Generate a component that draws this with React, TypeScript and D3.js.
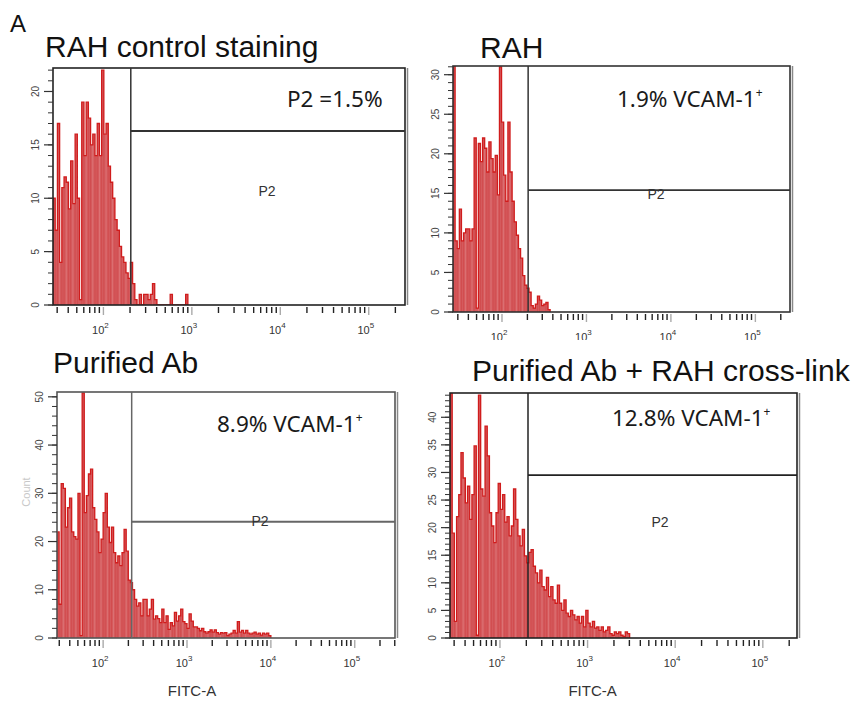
import React from "react";
import * as d3 from "d3";

// ---------------- data ----------------
const figureLetter = "A";
const panelTitles = [
  "RAH control staining",
  "RAH",
  "Purified Ab",
  "Purified Ab + RAH cross-link",
];
const gateTexts = ["P2 =1.5%", "1.9% VCAM-1", "8.9% VCAM-1", "12.8% VCAM-1"];
const gateTextSup = ["", "+", "+", "+"];
const gateName = "P2";
const xAxisTitle = "FITC-A";
const yAxisTitle = "Count";

// axis ranges (log10 of FITC-A)
const xLogMin = [1.43, 1.42, 1.45, 1.43];
const xLogMax = [5.41, 5.41, 5.48, 5.39];
const xMajorExponents = [2, 3, 4, 5];
const yMax = [22.2, 31.1, 51, 44.4];
const yLabelTicks = [
  [0, 5, 10, 15, 20],
  [0, 5, 10, 15, 20, 25, 30],
  [0, 10, 20, 30, 40, 50],
  [0, 5, 10, 15, 20, 25, 30, 35, 40],
];
const yMinorStep = [1, 1, 2, 1];

// P2 gate: vertical threshold (FITC-A) and marker height (count)
const gateFITC = [204, 204, 219, 209];
const gateCount = [16.3, 15.4, 24.1, 29.5];

// histogram bins: start (log10 FITC-A) and width
const binStartLog = [1.43, 1.42, 1.45, 1.43];
const binStepLog = 0.025;

const countsRAHControl = [
  10, 7, 17, 4, 11, 12, 11.5, 9, 13.5, 9.5, 16, 10, 0.5, 19, 14, 19, 17.5, 15,
  16, 14, 17, 14, 22, 16, 17, 13, 11.5, 10, 8, 7, 5.5, 4.5, 4, 3, 2.5, 4, 2,
  0.5, 0, 1, 0, 1, 1, 0.5, 1, 2, 0.5, 0, 0, 0, 0, 0, 0, 1, 0, 0, 0, 0, 0, 0, 1,
];
const countsRAH = [
  45, 9, 8, 13, 9, 10, 10.5, 10.5, 9, 10.5, 22, 0.5, 21.3, 19, 22, 20.7, 17.7,
  21.5, 19.4, 17.7, 19.8, 14.8, 31, 24, 17.3, 14, 24, 17.7, 14, 11.4, 9.7, 8,
  6.8, 4.6, 3.4, 3, 2.5, 0.8, 0.5, 1, 2, 1.5, 0.8, 1, 1.2, 0.3,
];
const countsPurified = [
  22, 7, 32, 31, 23, 27, 29, 22, 21, 20.5, 30, 0.5, 50.8, 26, 29.5, 34, 35, 27,
  24.6, 22, 17.7, 20.5, 26, 30, 23, 19.8, 23, 17.7, 15.6, 17, 15, 17.7, 22.5,
  18, 12, 11.5, 10, 8, 6.6, 7.3, 4.6, 8, 8, 4.6, 6, 8, 3.9, 4.6, 4, 3.2, 6, 3.2,
  4.6, 1.8, 3.2, 2.5, 5.3, 3.5, 4.6, 6, 3.4, 3, 2, 5, 3.5, 2.3, 2.3, 2, 1.5, 2,
  1.3, 1, 1.3, 1.7, 1.2, 1.7, 1.1, 0.8, 1.1, 1, 1.1, 0.5, 0.8, 1, 1.6, 1, 3.4,
  1.2, 1.6, 1, 1.6, 1, 0.8, 1, 1.2, 0.8, 1, 0.6, 1, 0.8, 1, 0.5,
];
const countsCrossLink = [
  60, 19, 3, 22, 26, 33.6, 29, 24.5, 27.5, 21.5, 26, 34.8, 0.5, 44, 27, 25.7,
  38.4, 33, 22.7, 20.3, 17.3, 22.7, 28, 23.3, 26, 21, 22, 18.5, 20.3, 27, 21.5,
  18.5, 16.7, 19.7, 14.9, 13.6, 15.5, 16, 13, 11.8, 10, 12.3, 9.3, 8.7, 11, 7.5,
  9.3, 6.9, 6.3, 9.6, 6.3, 5, 6.9, 4.5, 3.9, 5, 4.2, 3.3, 3.9, 2.7, 3.9, 2, 5,
  2.7, 2, 3, 1.8, 2, 1.4, 2, 1.1, 1.4, 2, 0.8, 0.5, 1.1, 0.8, 1.1, 0.5, 0.3,
  1.1, 0.8,
];
const panelCounts = [countsRAHControl, countsRAH, countsPurified, countsCrossLink];

// ---------------- layout ----------------
type Layout = {
  left: number; right: number; top: number; bottom: number;
  titleX: number; titleY: number;
  annX: number; annY: number;
  p2X: number; p2Y: number;
  clipBottom: number | null;
  showXTitle: boolean;
  frame: string; gateStroke: string;
};
const layouts: Layout[] = [
  { left: 53, right: 405, top: 68, bottom: 305, titleX: 45, titleY: 57, annX: 287, annY: 107, p2X: 267, p2Y: 196, clipBottom: null, showXTitle: false, frame: "#222", gateStroke: "#333" },
  { left: 453, right: 790, top: 66, bottom: 312, titleX: 480, titleY: 58, annX: 617, annY: 107, p2X: 656, p2Y: 199, clipBottom: 340, showXTitle: false, frame: "#333", gateStroke: "#333" },
  { left: 57, right: 395, top: 392, bottom: 638, titleX: 53, titleY: 373, annX: 217, annY: 432, p2X: 260, p2Y: 526, clipBottom: null, showXTitle: true, frame: "#555", gateStroke: "#666" },
  { left: 450, right: 797, top: 393, bottom: 638, titleX: 472, titleY: 381, annX: 612, annY: 426, p2X: 660, p2Y: 527, clipBottom: null, showXTitle: true, frame: "#222", gateStroke: "#222" },
];

const TITLE_FONT = "'Liberation Sans', Arial, sans-serif";
const ANN_FONT = "'Noto Sans', 'Open Sans', sans-serif";

function Panel({ idx }: { idx: number }) {
  const L = layouts[idx];
  const x = d3
    .scaleLog()
    .domain([Math.pow(10, xLogMin[idx]), Math.pow(10, xLogMax[idx])])
    .range([L.left, L.right]);
  const y = d3.scaleLinear().domain([0, yMax[idx]]).range([L.bottom, L.top]);
  const counts = panelCounts[idx];
  const edges = counts.map((_, i) => Math.pow(10, binStartLog[idx] + i * binStepLog));
  const lastEdge = Math.pow(10, binStartLog[idx] + counts.length * binStepLog);

  const pts: [number, number][] = counts.map((c, i) => [edges[i], c]);
  pts.push([lastEdge, counts[counts.length - 1]]);
  const outlinePts: [number, number][] = [[edges[0], 0], ...pts, [lastEdge, 0]];

  const area = d3
    .area<[number, number]>()
    .x((d) => x(d[0]))
    .y0(L.bottom)
    .y1((d) => y(d[1]))
    .curve(d3.curveStepAfter);
  const line = d3
    .line<[number, number]>()
    .x((d) => x(d[0]))
    .y((d) => y(d[1]))
    .curve(d3.curveStepAfter);

  // log ticks
  const xTicks: { v: number; major: boolean }[] = [];
  for (let d = 1; d <= 5; d++) {
    for (let k = 1; k <= 9; k++) {
      const v = k * Math.pow(10, d);
      const lv = Math.log10(v);
      if (lv >= xLogMin[idx] && lv <= xLogMax[idx]) xTicks.push({ v, major: k === 1 });
    }
  }
  const yMinor = d3.range(0, yMax[idx] + 1e-6, yMinorStep[idx]);
  const clipId = `plot-clip-${idx}`;
  const groupClipId = `grp-clip-${idx}`;
  const gx = x(gateFITC[idx]);
  const gy = y(gateCount[idx]);

  return (
    <g clipPath={L.clipBottom ? `url(#${groupClipId})` : undefined}>
      <defs>
        <clipPath id={clipId}>
          <rect x={L.left} y={L.top} width={L.right - L.left} height={L.bottom - L.top} />
        </clipPath>
        {L.clipBottom && (
          <clipPath id={groupClipId}>
            <rect x={L.left - 60} y={0} width={L.right - L.left + 120} height={L.clipBottom} />
          </clipPath>
        )}
      </defs>
      <text x={L.titleX} y={L.titleY} fontFamily={TITLE_FONT} fontSize={30} fill="#111">
        {panelTitles[idx]}
      </text>
      <rect x={L.left} y={L.top} width={L.right - L.left} height={L.bottom - L.top} fill="#fff" />
      <g clipPath={`url(#${clipId})`}>
        <path d={area(pts) || ""} fill="#d55a5d" />
        {counts.map((c, i) =>
          i > 0 && c > 1 ? (
            <line
              key={i}
              x1={x(edges[i])}
              x2={x(edges[i])}
              y1={L.bottom}
              y2={y(Math.min(c, counts[i - 1]))}
              stroke={i % 3 === 0 ? "#eba3a3" : "#c92a2a"}
              strokeWidth={0.6}
              opacity={i % 3 === 0 ? 0.6 : 0.45}
            />
          ) : null
        )}
        <path d={line(outlinePts) || ""} fill="none" stroke="#d01c1c" strokeWidth={1.3} />
      </g>
      {/* frame */}
      <rect
        x={L.left}
        y={L.top}
        width={L.right - L.left}
        height={L.bottom - L.top}
        fill="none"
        stroke={L.frame}
        strokeWidth={1.6}
      />
      <line x1={L.right + 2.5} x2={L.right + 2.5} y1={L.top} y2={L.bottom} stroke="#888" strokeWidth={1.5} />
      {/* gate */}
      <line x1={gx} x2={gx} y1={L.top} y2={L.bottom} stroke={L.gateStroke} strokeWidth={1.5} />
      <line x1={gx} x2={L.right} y1={gy} y2={gy} stroke={L.gateStroke} strokeWidth={1.8} />
      <text x={L.p2X} y={L.p2Y} textAnchor="middle" fontFamily={TITLE_FONT} fontSize={14} fill="#333">
        {gateName}
      </text>
      <text x={L.annX} y={L.annY} fontFamily={ANN_FONT} fontSize={22.5} fill="#1a1a1a">
        {gateTexts[idx]}
        {gateTextSup[idx] && (
          <tspan fontSize={12} dy={-10}>
            {gateTextSup[idx]}
          </tspan>
        )}
      </text>
      {/* x ticks */}
      {xTicks.map((t, i) => (
        <line
          key={i}
          x1={x(t.v)}
          x2={x(t.v)}
          y1={L.bottom + 2}
          y2={L.bottom + (t.major ? 10 : 8)}
          stroke={t.major ? "#aaa" : "#222"}
          strokeWidth={1.4}
        />
      ))}
      {xMajorExponents.map((e) => (
        <text
          key={e}
          x={x(Math.pow(10, e)) - 3}
          y={L.bottom + 29}
          textAnchor="middle"
          fontFamily={TITLE_FONT}
          fontSize={11}
          fill="#333"
        >
          10
          <tspan fontSize={8} dy={-6}>
            {e}
          </tspan>
        </text>
      ))}
      {/* y ticks */}
      {yMinor.map((v, i) => (
        <line key={i} x1={L.left - 5} x2={L.left} y1={y(v)} y2={y(v)} stroke="#333" strokeWidth={1} />
      ))}
      {yLabelTicks[idx].map((v) => (
        <g key={v}>
          <line x1={L.left - 9} x2={L.left} y1={y(v)} y2={y(v)} stroke="#333" strokeWidth={1.2} />
          <text
            transform={`translate(${L.left - 14},${y(v)}) rotate(-90)`}
            textAnchor="middle"
            fontFamily={TITLE_FONT}
            fontSize={10}
            fill="#444"
          >
            {v}
          </text>
        </g>
      ))}
      {L.showXTitle && (
        <text
          x={(x(100) + x(10000)) / 2 + 5}
          y={696}
          textAnchor="middle"
          fontFamily={TITLE_FONT}
          fontSize={15}
          fill="#333"
        >
          {xAxisTitle}
        </text>
      )}
    </g>
  );
}

export default function App() {
  return (
    <svg
      width={860}
      height={703}
      style={{ position: "absolute", left: 0, top: 0, background: "#fff" }}
    >
      <rect width={860} height={703} fill="#fff" />
      <text x={10} y={32} fontFamily={TITLE_FONT} fontSize={24} fill="#111">
        {figureLetter}
      </text>
      {layouts.map((_, i) => (
        <Panel key={i} idx={i} />
      ))}
      <text
        transform="translate(30,492) rotate(-90)"
        textAnchor="middle"
        fontFamily={TITLE_FONT}
        fontSize={11}
        fill="#c8c8c8"
      >
        {yAxisTitle}
      </text>
    </svg>
  );
}
